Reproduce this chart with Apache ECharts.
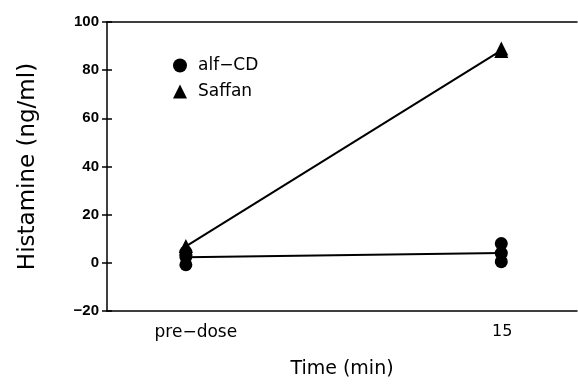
<!DOCTYPE html>
<html>
<head>
<meta charset="utf-8">
<script src="https://cdn.jsdelivr.net/npm/echarts@6/dist/echarts.min.js"></script>
<style>html,body{margin:0;padding:0;background:#fff}#c{width:578px;height:384px}</style>
</head>
<body>
<div id="c"></div>
<script>
var categories = ['pre\u2212dose', '15'];
var categoryX = [0, 1];
var alfCDPre = [-0.8, 2.5, 4.5];
var alfCD15 = [0.5, 4, 8];
var alfCDMean = [2.3, 4.1];
var saffanPre = [6, 7];
var saffan15 = [88, 89];
var saffanMean = [6.8, 88.2];

function pts(x, arr) { return arr.map(function (v) { return [x, v]; }); }

var font = '"DejaVu Sans", sans-serif';
var chart = echarts.init(document.getElementById('c'));
chart.setOption({
  animation: false,
  backgroundColor: '#fff',
  grid: { left: 107, right: 1, top: 22, bottom: 70, containLabel: false },
  legend: {
    orient: 'vertical', left: 168, top: 52, itemGap: 9, itemWidth: 14, itemHeight: 14,
    data: [{ name: 'alf\u2212CD', icon: 'circle' }, { name: 'Saffan', icon: 'triangle' }],
    textStyle: { fontFamily: font, fontSize: 17, color: '#000', padding: [0, 0, 0, 6] }
  },
  xAxis: [{
    type: 'value', min: -0.25, max: 1.24, position: 'bottom',
    name: 'Time (min)', nameLocation: 'middle', nameGap: 49,
    nameTextStyle: { fontFamily: font, fontSize: 19, color: '#000' },
    axisLine: { onZero: false, lineStyle: { color: '#000', width: 1.5 } },
    axisTick: { show: false },
    splitLine: { show: false },
    axisLabel: {
      customValues: categoryX, margin: 13,
      formatter: function (v) {
        var i = categoryX.indexOf(v);
        return i === 0 ? '{p|' + categories[i] + '}' : '{q|' + categories[i] + '}';
      },
      rich: {
        p: { fontFamily: font, fontSize: 17, color: '#000', padding: [0, 0, 0, 20] },
        q: { fontFamily: font, fontSize: 16, color: '#000', padding: [0, 0, 0, 2] }
      },
      fontFamily: font, fontSize: 17, color: '#000'
    }
  }, {
    type: 'value', min: -0.25, max: 1.24, position: 'top',
    axisLine: { show: true, onZero: false, lineStyle: { color: '#000', width: 1.5 } },
    axisTick: { show: false }, axisLabel: { show: false }, splitLine: { show: false }
  }],
  yAxis: [{
    type: 'value', min: -20, max: 100, interval: 20,
    name: 'Histamine (ng/ml)', nameLocation: 'middle', nameGap: 67,
    nameTextStyle: { fontFamily: font, fontSize: 23, color: '#000' },
    axisLine: { show: true, onZero: false, lineStyle: { color: '#000', width: 1.5 } },
    axisTick: { show: true, length: 5, lineStyle: { color: '#000', width: 1.5 } },
    splitLine: { show: false },
    axisLabel: {
      margin: 8, fontFamily: '"Liberation Sans", Arial, sans-serif', fontWeight: 'bold', fontSize: 15, color: '#000',
      formatter: function (v) { return String(v).replace('-', '\u2212'); }
    }
  }, {
    type: 'value', min: -20, max: 100, interval: 20, position: 'left',
    axisLine: { show: false, onZero: false },
    axisTick: { show: true, inside: true, length: 5, lineStyle: { color: '#000', width: 1.5 } },
    axisLabel: { show: false }, splitLine: { show: false }
  }],
  series: [
    { type: 'line', data: [[categoryX[0], alfCDMean[0]], [categoryX[1], alfCDMean[1]]],
      symbol: 'none', lineStyle: { color: '#000', width: 2 }, z: 2 },
    { type: 'line', data: [[categoryX[0], saffanMean[0]], [categoryX[1], saffanMean[1]]],
      symbol: 'none', lineStyle: { color: '#000', width: 2 }, z: 2 },
    { name: 'alf\u2212CD', type: 'scatter', symbol: 'circle', symbolSize: 13,
      itemStyle: { color: '#000', opacity: 1 }, data: pts(categoryX[0], alfCDPre).concat(pts(categoryX[1], alfCD15)), z: 3 },
    { name: 'Saffan', type: 'scatter', symbol: 'triangle', symbolSize: 14,
      itemStyle: { color: '#000', opacity: 1 }, data: pts(categoryX[0], saffanPre).concat(pts(categoryX[1], saffan15)), z: 3 }
  ]
});
</script>
</body>
</html>
